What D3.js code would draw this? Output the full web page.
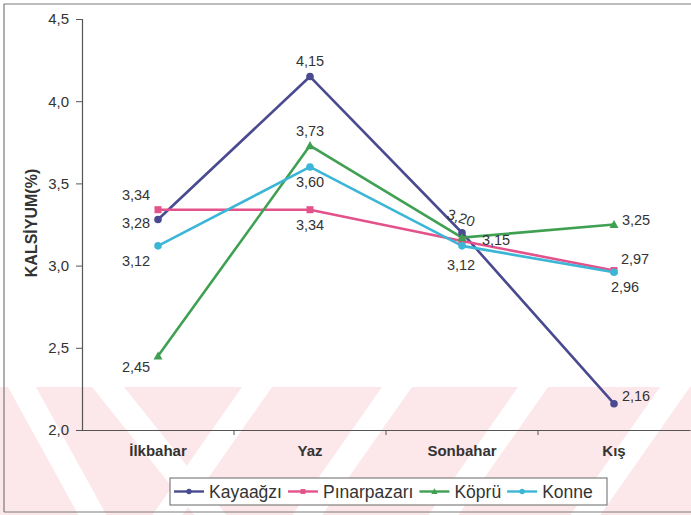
<!DOCTYPE html>
<html>
<head>
<meta charset="utf-8">
<script src="https://cdn.jsdelivr.net/npm/d3@7"></script>
<style>
  html, body { margin: 0; padding: 0; background: #fff; }
  svg { display: block; font-family: Arial, "Liberation Sans", sans-serif; }
</style>
</head>
<body>
<svg id="chart" width="691" height="515"></svg>
<script>
// Seasons on the x axis
const seasons = ["İlkbahar", "Yaz", "Sonbahar", "Kış"];

// Calcium (%) per station and season
const kayaagzi    = [3.28, 4.15, 3.20, 2.16];
const pinarpazari = [3.34, 3.34, 3.15, 2.97];
const kopru       = [2.45, 3.73, 3.17, 3.25];
const konne       = [3.12, 3.60, 3.12, 2.96];

// Value labels printed next to points (null = no label)
const kayaagziLabels    = ["3,28", "4,15", "3,20", "2,16"];
const pinarpazariLabels = ["3,34", "3,34", "3,15", "2,97"];
const kopruLabels       = ["2,45", "3,73", null,   "3,25"];
const konneLabels       = ["3,12", "3,60", "3,12", "2,96"];

const yTicks = [2.0, 2.5, 3.0, 3.5, 4.0, 4.5];
const yTitle = "KALSİYUM(%)";

const series = [
  { name: "Kayaağzı",    values: kayaagzi,    labels: kayaagziLabels,    color: "#4a4a90", marker: "circle",
    offs: [[-22, 3], [0, -16], [-1, -15, 18], [22, -8]] },
  { name: "Pınarpazarı", values: pinarpazari, labels: pinarpazariLabels, color: "#e4528c", marker: "square",
    offs: [[-22, -15], [0, 15], [34, -1], [21, -12]] },
  { name: "Köprü",       values: kopru,       labels: kopruLabels,       color: "#40a052", marker: "triangle",
    offs: [[-22, 11], [0, -15], [0, 0], [22, -5]] },
  { name: "Konne",       values: konne,       labels: konneLabels,       color: "#3cb6d6", marker: "circle",
    offs: [[-22, 15], [0, 15], [-1, 19], [11, 15]] }
];

const svg = d3.select("#chart");
const W = 691, H = 515;
const plot = { left: 82, right: 690, top: 19, bottom: 430 };

// --- faint striped band across the lower part of the page ---
const wm = svg.append("g").attr("class", "band");
wm.append("rect").attr("x", 0).attr("y", 387).attr("width", W).attr("height", H - 387)
  .attr("fill", "#fce7ea");
const bandTop = 387, bandBot = H;
const stripe = (xTop, width, slope) => {
  const h = bandBot - bandTop;
  return `M${xTop},${bandTop} L${xTop + width},${bandTop} L${xTop + width + slope * h},${bandBot} L${xTop + slope * h},${bandBot} Z`;
};
[[8, 28, 0.55], [92, 32, 0.8]].forEach(s =>
  wm.append("path").attr("d", stripe(...s)).attr("fill", "#fff"));
[[242, 30, -0.7], [382, 30, -0.7], [518, 30, -0.7], [660, 30, -0.7]].forEach(s =>
  wm.append("path").attr("d", stripe(...s)).attr("fill", "#fff"));

// --- outer frame ---
const frame = svg.append("g").attr("stroke", "#7a7a7a").attr("stroke-width", 1.2).attr("fill", "none");
frame.append("line").attr("x1", 4).attr("x2", W).attr("y1", 4).attr("y2", 4);
frame.append("line").attr("x1", 4).attr("x2", 4).attr("y1", 4).attr("y2", 512);
frame.append("line").attr("x1", 4).attr("x2", W).attr("y1", 512).attr("y2", 512);

// --- scales ---
const x = d3.scaleBand().domain(seasons).range([plot.left, plot.right]);
const y = d3.scaleLinear().domain([2.0, 4.5]).range([plot.bottom, plot.top]);
const cx = s => x(s) + x.bandwidth() / 2;

// --- y axis ---
const fmt = d => d3.format(".1f")(d).replace(".", ",");
const yAxis = svg.append("g").attr("transform", `translate(${plot.left},0)`)
  .call(d3.axisLeft(y).tickValues(yTicks).tickFormat(fmt).tickSize(6).tickPadding(7));
yAxis.select(".domain").attr("stroke", "#555").attr("stroke-width", 1.2);
yAxis.selectAll(".tick line").attr("stroke", "#555");
yAxis.selectAll(".tick text").attr("font-size", 15).attr("fill", "#333")
  .attr("font-family", "Arial, 'Liberation Sans', sans-serif");

// --- x axis ---
const xAxis = svg.append("g").attr("transform", `translate(0,${plot.bottom})`)
  .call(d3.axisBottom(x).tickSize(0).tickPadding(15));
xAxis.select(".domain").attr("stroke", "#555").attr("stroke-width", 1.2);
xAxis.selectAll(".tick text").attr("font-size", 15).attr("font-weight", "bold").attr("fill", "#333")
  .attr("font-family", "Arial, 'Liberation Sans', sans-serif");
// category separator ticks
xAxis.selectAll(".sep").data(seasons.slice(1)).enter().append("line")
  .attr("x1", d => x(d)).attr("x2", d => x(d)).attr("y1", 0).attr("y2", 5)
  .attr("stroke", "#555");

// --- y axis title ---
svg.append("text")
  .attr("transform", `translate(37,223) rotate(-90)`)
  .attr("text-anchor", "middle")
  .attr("font-size", 16).attr("font-weight", "bold").attr("fill", "#333")
  .text(yTitle);

// --- lines and markers ---
const line = d3.line().x((d, i) => cx(seasons[i])).y(d => y(d));

function drawMarker(g, type, px, py, color, scale = 1) {
  if (type === "square") {
    const s = 7 * scale;
    g.append("rect").attr("x", px - s / 2).attr("y", py - s / 2).attr("width", s).attr("height", s).attr("fill", color);
  } else if (type === "triangle") {
    const s = 4.5 * scale;
    g.append("path").attr("d", `M${px},${py - s} L${px + s},${py + s * 0.8} L${px - s},${py + s * 0.8} Z`).attr("fill", color);
  } else {
    g.append("circle").attr("cx", px).attr("cy", py).attr("r", 3.8 * scale).attr("fill", color);
  }
}

const gSeries = svg.append("g");
series.forEach(s => {
  gSeries.append("path").datum(s.values).attr("d", line)
    .attr("fill", "none").attr("stroke", s.color).attr("stroke-width", 2.6).attr("stroke-linejoin", "round");
});
series.forEach(s => {
  s.values.forEach((v, i) => drawMarker(gSeries, s.marker, cx(seasons[i]), y(v), s.color));
});

// --- value labels ---
const gLabels = svg.append("g").attr("font-size", 14.5).attr("fill", "#333").attr("text-anchor", "middle");
series.forEach(s => {
  s.values.forEach((v, i) => {
    if (!s.labels[i]) return;
    const [dx, dy, rot] = s.offs[i];
    const lx = cx(seasons[i]) + dx, ly = y(v) + dy;
    gLabels.append("text")
      .attr("transform", `translate(${lx},${ly})` + (rot ? ` rotate(${rot})` : ""))
      .attr("dy", "0.35em")
      .text(s.labels[i]);
  });
});

// --- legend ---
const legend = svg.append("g");
const lg = { x: 170, y: 478, w: 437, h: 27 };
legend.append("rect").attr("x", lg.x).attr("y", lg.y).attr("width", lg.w).attr("height", lg.h)
  .attr("fill", "#fff").attr("stroke", "#666").attr("stroke-width", 1);
let lx = lg.x + 4;
const ly = lg.y + lg.h / 2;
series.forEach(s => {
  legend.append("line").attr("x1", lx).attr("x2", lx + 30).attr("y1", ly).attr("y2", ly)
    .attr("stroke", s.color).attr("stroke-width", 2.4);
  drawMarker(legend, s.marker, lx + 15, ly, s.color, 0.7);
  const t = legend.append("text").attr("x", lx + 35).attr("y", ly).attr("dy", "0.35em")
    .attr("font-size", 17.5).attr("fill", "#333").text(s.name);
  lx += 35 + t.node().getComputedTextLength() + 6;
});
</script>
</body>
</html>
